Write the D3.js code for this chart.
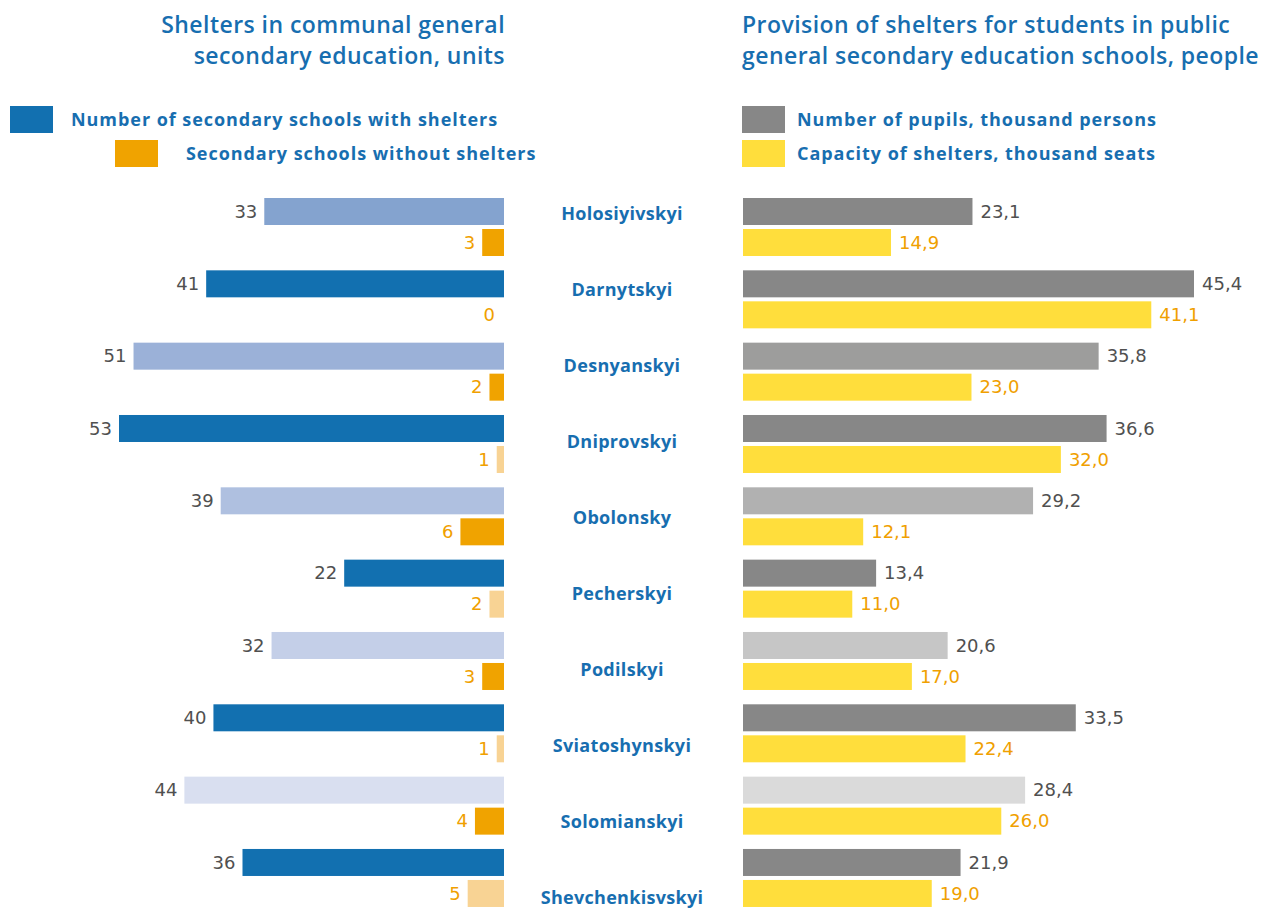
<!DOCTYPE html>
<html>
<head>
<meta charset="utf-8">
<script src="https://cdn.jsdelivr.net/npm/d3@7"></script>
<style>
  html, body { margin: 0; padding: 0; background: #fff; }
  svg { display: block; }
  text { font-family: "Open Sans", "Noto Sans", sans-serif; }
  text.num { font-family: "DejaVu Sans", sans-serif; }
</style>
</head>
<body>
<svg id="chart" width="1268" height="908"></svg>
<script>
// ---- data ----
const districts = ["Holosiyivskyi", "Darnytskyi", "Desnyanskyi", "Dniprovskyi", "Obolonsky",
  "Pecherskyi", "Podilskyi", "Sviatoshynskyi", "Solomianskyi", "Shevchenkisvskyi"];
const withShelters = [33, 41, 51, 53, 39, 22, 32, 40, 44, 36];
const withoutShelters = [3, 0, 2, 1, 6, 2, 3, 1, 4, 5];
const pupils = [23.1, 45.4, 35.8, 36.6, 29.2, 13.4, 20.6, 33.5, 28.4, 21.9];
const capacity = [14.9, 41.1, 23.0, 32.0, 12.1, 11.0, 17.0, 22.4, 26.0, 19.0];

const leftTitle = ["Shelters in communal general", "secondary education, units"];
const rightTitle = ["Provision of shelters for students in public", "general secondary education schools, people"];
const leftLegend = ["Number of secondary schools with shelters", "Secondary schools without shelters"];
const rightLegend = ["Number of pupils, thousand persons", "Capacity of shelters, thousand seats"];

// ---- styles ----
const blueShades = ["#84a3cf", "#1270b0", "#9bb1d8", "#1270b0", "#afc0e0", "#1270b0", "#c4cfe8", "#1270b0", "#d9dff0", "#1270b0"];
const orangeShades = ["#f0a300", "#f0a300", "#f0a300", "#f8d394", "#f0a300", "#f8d394", "#f0a300", "#f8d394", "#f0a300", "#f8d394"];
const greyShades = ["#878787", "#878787", "#9d9d9c", "#878787", "#b1b1b1", "#878787", "#c6c6c6", "#878787", "#dadada", "#878787"];
const yellow = "#ffde3c";
const titleBlue = "#176eb0";
const valueGrey = "#505050";
const valueOrange = "#f0a000";

const svg = d3.select("#chart");

// scales
const y = d3.scaleBand().domain(districts).range([198, 198 + 72.33 * 10]).padding(0);
const yLabel = d3.scalePoint().domain(districts).range([214, 898]);
const xL = d3.scaleLinear().domain([0, 53]).range([504, 119]);
const xR = d3.scaleLinear().domain([0, 45.4]).range([743, 1194]);
const barH = 27, off2 = 31;
const fmt = v => d3.format(".1f")(v).replace(".", ",");

const rows = districts.map((d, i) => ({
  d, i, w: withShelters[i], wo: withoutShelters[i], p: pupils[i], c: capacity[i]
}));

// titles
svg.append("text").attr("text-anchor", "end").attr("x", 505).attr("y", 33)
  .attr("fill", titleBlue).attr("font-size", 23).attr("font-weight", 600).attr("letter-spacing", 0.45)
  .selectAll("tspan").data(leftTitle).join("tspan")
  .attr("x", 505).attr("dy", (d, i) => i ? 31 : 0).text(d => d);
svg.append("text").attr("text-anchor", "start").attr("x", 742).attr("y", 33)
  .attr("fill", titleBlue).attr("font-size", 23).attr("font-weight", 600).attr("letter-spacing", 0.45)
  .selectAll("tspan").data(rightTitle).join("tspan")
  .attr("x", 742).attr("dy", (d, i) => i ? 31 : 0).text(d => d);

// legends
const legL = [{x: 10, tx: 71, yy: 106, c: "#1270b0", t: leftLegend[0]},
              {x: 115, tx: 186, yy: 140, c: "#f0a300", t: leftLegend[1]}];
const legR = [{x: 742, tx: 797, yy: 106, c: "#878787", t: rightLegend[0]},
              {x: 742, tx: 797, yy: 140, c: yellow, t: rightLegend[1]}];
[...legL, ...legR].forEach(l => {
  svg.append("rect").attr("x", l.x).attr("y", l.yy).attr("width", 43).attr("height", 27).attr("fill", l.c);
  svg.append("text").attr("x", l.tx).attr("y", l.yy + 13.5).attr("dy", "0.35em")
    .attr("fill", titleBlue).attr("font-size", 18).attr("font-weight", 700).attr("letter-spacing", 0.95).text(l.t);
});

// left bars: with shelters
svg.append("g").selectAll("rect").data(rows).join("rect")
  .attr("x", r => xL(r.w)).attr("y", r => y(r.d))
  .attr("width", r => xL(0) - xL(r.w)).attr("height", barH)
  .attr("fill", r => blueShades[r.i]);
svg.append("g").selectAll("text").data(rows).join("text").attr("class", "num")
  .attr("x", r => xL(r.w) - 7).attr("y", r => y(r.d) + barH / 2).attr("dy", "0.35em")
  .attr("text-anchor", "end").attr("font-size", 18).attr("fill", valueGrey).text(r => r.w);

// left bars: without shelters
svg.append("g").selectAll("rect").data(rows).join("rect")
  .attr("x", r => xL(r.wo)).attr("y", r => y(r.d) + off2)
  .attr("width", r => xL(0) - xL(r.wo)).attr("height", barH)
  .attr("fill", r => orangeShades[r.i]);
svg.append("g").selectAll("text").data(rows).join("text").attr("class", "num")
  .attr("x", r => xL(r.wo) - (r.wo === 0 ? 9 : 7)).attr("y", r => y(r.d) + off2 + barH / 2).attr("dy", "0.35em")
  .attr("text-anchor", "end").attr("font-size", 18).attr("fill", valueOrange).text(r => r.wo);

// center labels
svg.append("g").selectAll("text").data(rows).join("text")
  .attr("x", 622).attr("y", r => yLabel(r.d)).attr("dy", "0.35em")
  .attr("text-anchor", "middle").attr("font-size", 18).attr("font-weight", 700).attr("letter-spacing", 0.3)
  .attr("fill", titleBlue).text(r => r.d);

// right bars: pupils
svg.append("g").selectAll("rect").data(rows).join("rect")
  .attr("x", xR(0)).attr("y", r => y(r.d))
  .attr("width", r => xR(r.p) - xR(0)).attr("height", barH)
  .attr("fill", r => greyShades[r.i]);
svg.append("g").selectAll("text").data(rows).join("text").attr("class", "num")
  .attr("x", r => xR(r.p) + 8).attr("y", r => y(r.d) + barH / 2).attr("dy", "0.35em")
  .attr("font-size", 18).attr("fill", valueGrey).text(r => fmt(r.p));

// right bars: capacity
svg.append("g").selectAll("rect").data(rows).join("rect")
  .attr("x", xR(0)).attr("y", r => y(r.d) + off2)
  .attr("width", r => xR(r.c) - xR(0)).attr("height", barH)
  .attr("fill", yellow);
svg.append("g").selectAll("text").data(rows).join("text").attr("class", "num")
  .attr("x", r => xR(r.c) + 8).attr("y", r => y(r.d) + off2 + barH / 2).attr("dy", "0.35em")
  .attr("font-size", 18).attr("fill", valueOrange).text(r => fmt(r.c));
</script>
</body>
</html>
